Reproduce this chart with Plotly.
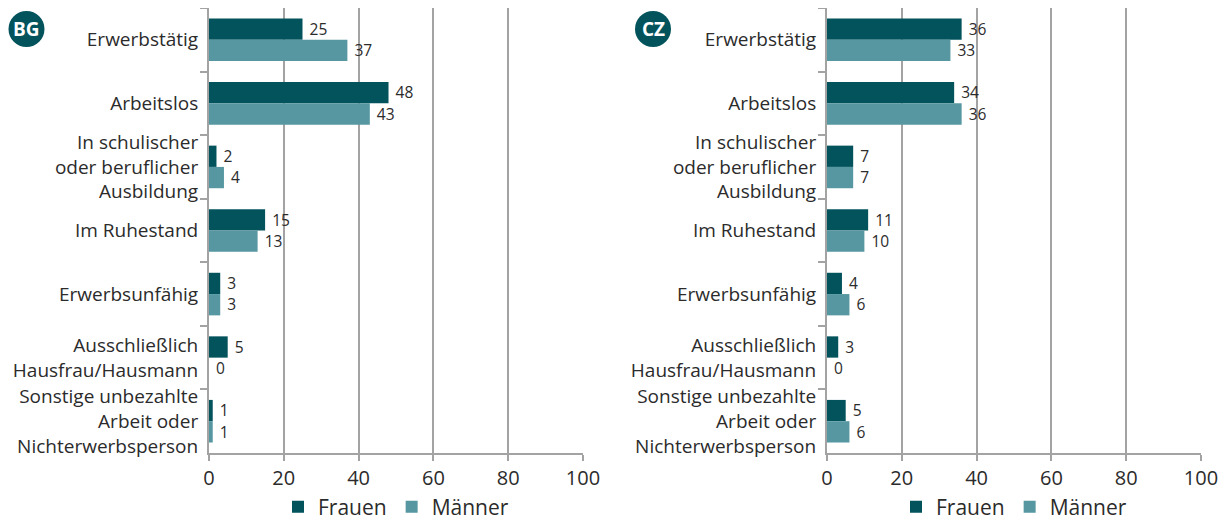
import plotly.graph_objects as go

categories = ["Erwerbstätig", "Arbeitslos", "In schulischer<br>oder beruflicher<br>Ausbildung",
              "Im Ruhestand", "Erwerbsunfähig", "Ausschließlich<br>Hausfrau/Hausmann",
              "Sonstige unbezahlte<br>Arbeit oder<br>Nichterwerbsperson"]
bg_frauen = [25, 48, 2, 15, 3, 5, 1]
bg_maenner = [37, 43, 4, 13, 3, 0, 1]
cz_frauen = [36, 34, 7, 11, 4, 3, 5]
cz_maenner = [33, 36, 7, 10, 6, 0, 6]
x_ticks = [0, 20, 40, 60, 80, 100]

C_F = "#02535c"
C_M = "#5697a1"
GRID = "#a3a3a3"
TXT = "#2b2b2b"
FONT = "Open Sans"

W, H = 1231, 520
OFF = 8  # browser body margin


def px(x):
    return (x - OFF) / W


def py(y):
    return 1 - (y - OFF) / H


fig = go.Figure()

panels = [
    ("BG", bg_frauen, bg_maenner, "x", "y", "legend", (209, 583), 26.5),
    ("CZ", cz_frauen, cz_maenner, "x2", "y2", "legend2", (827, 1201), 653),
]

for name, fr, ma, xa, ya, lg, _, _b in panels:
    for label, vals, col in (("Frauen", fr, C_F), ("Männer", ma, C_M)):
        fig.add_trace(go.Bar(
            y=categories, x=vals, orientation="h", name=label,
            marker=dict(color=col, line=dict(width=0)),
            text=[" " + str(v) for v in vals], textposition="outside",
            textfont=dict(family=FONT, size=19, color=TXT),
            cliponaxis=False, xaxis=xa, yaxis=ya, legend=lg,
        ))

y_dom = [py(453), py(8)]
layout = dict(
    width=W, height=H, template="none",
    margin=dict(l=0, r=0, t=0, b=0),
    paper_bgcolor="white", plot_bgcolor="white",
    barmode="group", bargap=0.33, bargroupgap=0,
    font=dict(family=FONT, color=TXT),
    shapes=[], annotations=[],
)

for i, (name, fr, ma, xa, ya, lg, (px0, px1), bx) in enumerate(panels):
    sfx = "" if i == 0 else "2"
    layout["xaxis" + sfx] = dict(
        domain=[px(px0), px(px1)], range=[0, 100], anchor=ya,
        tickvals=x_ticks, ticks="outside", ticklen=6, tickcolor=GRID, tickwidth=2,
        showgrid=True, gridcolor=GRID, gridwidth=2, zeroline=False,
        showline=True, linecolor=GRID, linewidth=2,
        tickfont=dict(family=FONT, size=20, color=TXT), automargin=False,
    )
    layout["yaxis" + sfx] = dict(
        domain=y_dom, anchor=xa, autorange="reversed", type="category",
        ticks="outside", tickson="boundaries", ticklen=7, tickcolor=GRID, tickwidth=2,
        showline=True, linecolor=GRID, linewidth=2, showgrid=False, zeroline=False,
        tickfont=dict(family=FONT, size=19, color=TXT), ticklabelstandoff=5,
        automargin=False,
    )
    cx = (px0 + px1) / 2
    layout["legend" if i == 0 else "legend2"] = dict(
        orientation="h", x=px(cx), xanchor="center", y=py(507), yanchor="middle",
        font=dict(family=FONT, size=21, color=TXT), bgcolor="rgba(0,0,0,0)",
        itemwidth=30, tracegroupgap=0,
    )
    layout["shapes"].append(dict(
        type="circle", xref="paper", yref="paper",
        x0=px(bx - 18), x1=px(bx + 18), y0=py(47), y1=py(11),
        fillcolor=C_F, line=dict(width=0)))
    layout["annotations"].append(dict(
        text="<b>%s</b>" % name, xref="paper", yref="paper",
        x=px(bx), y=py(29), xanchor="center", yanchor="middle",
        showarrow=False, font=dict(family=FONT, size=19, color="white")))

fig.update_layout(**layout)
fig.write_html("out.html")
